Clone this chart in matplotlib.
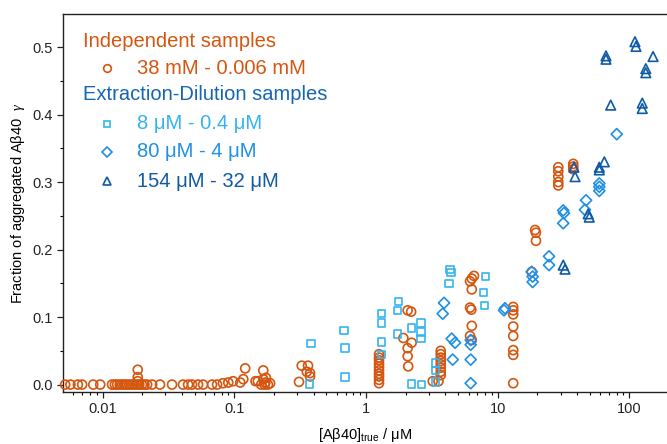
"""Fraction of aggregated Abeta40 versus true concentration (log x)."""

import matplotlib

matplotlib.use("Agg")
import matplotlib.pyplot as plt
from matplotlib.ticker import FixedLocator, LogLocator, NullFormatter, MultipleLocator

# independent samples, 38 mM - 0.006 mM (orange circles)
ind_x = [0.0052, 0.0057, 0.0065, 0.0070, 0.0085, 0.0096,
         0.0118, 0.0124, 0.0129, 0.0135, 0.0141, 0.0147, 0.0153, 0.0160, 0.0168,
         0.0175, 0.0183, 0.0190, 0.0199, 0.0208, 0.0218, 0.0238,
         0.0185, 0.0185, 0.0185,
         0.0273, 0.0337, 0.0408, 0.0446, 0.0478, 0.0531, 0.058, 0.0678, 0.074,
         0.082, 0.090, 0.098, 0.111, 0.117, 0.121,
         0.145, 0.151, 0.160, 0.166, 0.166, 0.172, 0.174, 0.180, 0.187, 0.170,
         0.31, 0.325, 0.363, 0.355, 0.376, 0.376,
         1.255, 1.255, 1.255, 1.255, 1.255, 1.255, 1.255, 1.255, 1.255, 1.255,
         2.07, 2.20, 1.92, 2.22, 2.07, 2.07, 2.09,
         3.69, 3.69, 3.69, 3.69, 3.69, 3.69, 3.69, 3.69, 3.21, 3.55,
         6.6, 6.35, 6.16, 6.35, 6.16, 6.3, 6.35, 6.16, 6.35,
         13.1, 13.1, 13.1, 13.1, 13.1, 13.1, 13.1, 13.1,
         19.2, 19.5, 19.5, 18.1,
         28.8, 28.8, 28.8, 28.8, 28.8,
         37.4, 37.4, 37.4]
ind_y = [0, 0, 0, 0, 0, 0,
         0, 0, 0, 0, 0, 0, 0, 0, 0,
         0, 0, 0, 0, 0, 0, 0,
         0.022, 0.011, 0.005,
         0, 0, 0, 0, 0, 0, 0, 0, 0,
         0.002, 0.003, 0.005, 0.003, 0.008, 0.024,
         0.005, 0.005, 0.0, 0.021, 0.008, 0.003, 0.010, 0.0, 0.002, 0.0,
         0.004, 0.028, 0.028, 0.019, 0.017, 0.012,
         0.045, 0.040, 0.036, 0.031, 0.026, 0.021, 0.016, 0.012, 0.007, 0.002,
         0.110, 0.108, 0.069, 0.062, 0.054, 0.042, 0.027,
         0.050, 0.045, 0.040, 0.035, 0.030, 0.025, 0.019, 0.014, 0.005, 0.005,
         0.161, 0.157, 0.153, 0.141, 0.114, 0.111, 0.087, 0.072, 0.066,
         0.115, 0.110, 0.104, 0.086, 0.072, 0.051, 0.044, 0.002,
         0.229, 0.225, 0.213, 0.167,
         0.322, 0.316, 0.308, 0.300, 0.295,
         0.327, 0.323, 0.319]

# extraction-dilution, 8 uM - 0.4 uM (squares)
sq_x = [0.383, 0.371, 0.681, 0.693, 0.693,
        1.316, 1.316, 1.316, 1.316,
        1.76, 1.73, 1.73,
        2.22, 2.62, 2.62, 2.62, 2.22, 2.65,
        3.38, 3.38, 3.38,
        4.34, 4.42, 4.27,
        8.10, 7.77, 7.90]
sq_y = [0.061, 0.001, 0.080, 0.054, 0.011,
        0.105, 0.091, 0.063, 0.045,
        0.123, 0.110, 0.075,
        0.084, 0.091, 0.078, 0.068, 0.001, 0.0,
        0.032, 0.021, 0.004,
        0.170, 0.166, 0.150,
        0.160, 0.136, 0.117]

# extraction-dilution, 80 uM - 4 uM (diamonds)
dia_x = [3.91, 3.82, 4.47, 4.74, 4.55,
         6.23, 6.23, 6.23, 6.23,
         11.35, 11.15,
         18.1, 18.4, 18.4,
         24.5, 24.5,
         31.4, 31.8, 31.4,
         46.8, 45.9,
         59.0, 59.0, 59.0,
         80.0]
dia_y = [0.121, 0.105, 0.068, 0.062, 0.037,
         0.066, 0.059, 0.037, 0.002,
         0.113, 0.110,
         0.167, 0.160, 0.152,
         0.190, 0.177,
         0.258, 0.254, 0.239,
         0.273, 0.259,
         0.298, 0.293, 0.287,
         0.371]

# extraction-dilution, 154 uM - 32 uM (triangles)
tri_x = [31.4, 32.4, 37.9, 38.6, 48.6, 49.5, 59.0, 64.4, 59.0,
         66.3, 66.3, 72.0, 110, 112, 151, 133, 133, 125, 125]
tri_y = [0.177, 0.171, 0.322, 0.308, 0.253, 0.248, 0.322, 0.330, 0.318,
         0.487, 0.482, 0.414, 0.508, 0.501, 0.486, 0.468, 0.462, 0.417, 0.409]

x_ticks = [0.01, 0.1, 1, 10, 100]
x_tick_labels = ["0.01", "0.1", "1", "10", "100"]
y_ticks = [0.0, 0.1, 0.2, 0.3, 0.4, 0.5]
y_tick_labels = ["0.0", "0.1", "0.2", "0.3", "0.4", "0.5"]

ORANGE = "#d4560f"
SKY = "#33b4f0"
MID = "#1e8fe6"
DARK = "#0e5aa7"
HEAD_BLUE = "#1566b2"

plt.rcParams["font.family"] = ["Liberation Sans", "DejaVu Sans"]
plt.rcParams["mathtext.fontset"] = "custom"
plt.rcParams["mathtext.rm"] = "Liberation Sans"
plt.rcParams["mathtext.it"] = "Liberation Serif:italic"

fig = plt.figure(figsize=(6.67, 4.44), dpi=100)
ax = fig.add_axes([63 / 667, 52 / 444, 604 / 667, 378 / 444])

style = dict(facecolors="none", linewidths=1.2, clip_on=False, zorder=3)
ax.scatter(ind_x, ind_y, marker="o", s=42, edgecolors=ORANGE, **style)
ax.scatter(sq_x, sq_y, marker="s", s=28, edgecolors=SKY, **style)
ax.scatter(dia_x, dia_y, marker="D", s=32, edgecolors=MID, **style)
ax.scatter(tri_x, tri_y, marker="^", s=48, edgecolors=DARK, **style)

ax.set_xscale("log")
ax.set_xlim(0.00501, 192.6)
ax.set_ylim(-0.011, 0.549)
ax.xaxis.set_major_locator(FixedLocator(x_ticks))
ax.set_xticklabels(x_tick_labels)
ax.xaxis.set_minor_locator(LogLocator(base=10, subs=range(2, 10)))
ax.xaxis.set_minor_formatter(NullFormatter())
ax.set_yticks(y_ticks)
ax.set_yticklabels(y_tick_labels)
ax.yaxis.set_minor_locator(MultipleLocator(0.05))
ax.tick_params(which="major", direction="out", length=4, width=0.9, labelsize=10.5,
               colors="#222222")
ax.tick_params(which="minor", direction="out", length=2.5, width=0.8)
ax.spines["right"].set_visible(False)
for side in ("left", "bottom", "top"):
    ax.spines[side].set_linewidth(1.0)
    ax.spines[side].set_color("#222222")

ax.set_xlabel(r"[Aβ40]$_{\mathrm{true}}$ / μM", fontsize=10.5, labelpad=7)
ax.set_ylabel(r"Fraction of aggregated Aβ40  $\gamma$", fontsize=10.5, labelpad=4)

# hand-placed legend, grouped under two headings
fs = 14.5
ax.text(0.033, 0.926, "Independent samples", color=ORANGE, fontsize=fs,
        transform=ax.transAxes, va="center")
ax.text(0.033, 0.786, "Extraction-Dilution samples", color=HEAD_BLUE, fontsize=fs,
        transform=ax.transAxes, va="center")
entries = [
    ("o", 5.5, ORANGE, "38 mM - 0.006 mM", 0.857),
    ("s", 4.5, SKY, "8 μM - 0.4 μM", 0.709),
    ("D", 5.0, MID, "80 μM - 4 μM", 0.635),
    ("^", 5.5, DARK, "154 μM - 32 μM", 0.558),
]
for marker, size, color, label, ypos in entries:
    ax.plot([0.0728], [ypos], marker=marker, markersize=size, markerfacecolor="none",
            markeredgecolor=color, markeredgewidth=1.2, transform=ax.transAxes)
    ax.text(0.1225, ypos, label, color=color, fontsize=fs, transform=ax.transAxes,
            va="center")

fig.savefig("out.png", dpi=100)
plt.close(fig)
